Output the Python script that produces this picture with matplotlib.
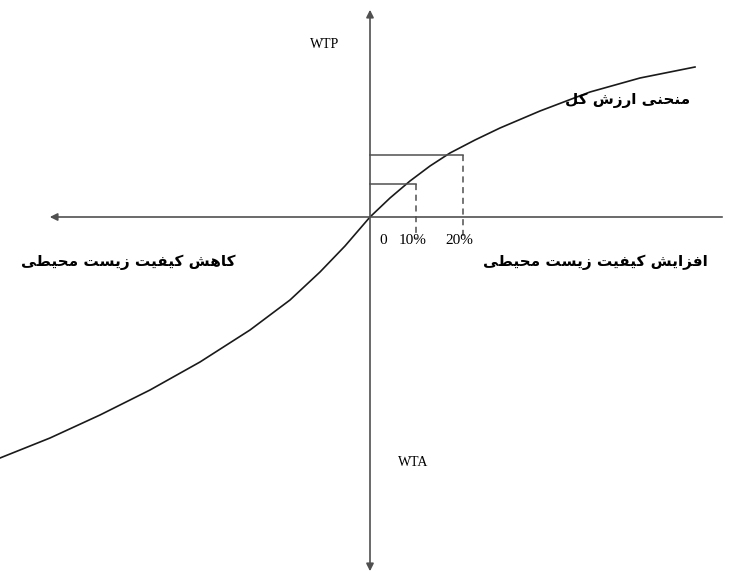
import matplotlib
matplotlib.use("Agg")
import matplotlib.pyplot as plt

# total value curve (offsets from the axes crossing)
quality_change = [-370, -320, -270, -220, -170, -120, -80, -50, -25, 0,
                  20, 40, 60, 80, 105, 130, 170, 220, 270, 325]
total_value = [-241, -221, -198, -173, -145, -113, -83, -55, -29, 0,
               19, 36, 51, 64, 77, 89, 106, 125, 139, 150]

# WTP levels for 10% and 20% improvement
pct_labels = ["10%", "20%"]
pct_x = [46, 93]
pct_label_x = [43, 89]
wtp_levels = [33, 62]

title_curve = "منحنی ارزش کل"
label_left = "کاهش کیفیت زیست محیطی"
label_right = "افزایش کیفیت زیست محیطی"

# simple persian shaping (isolated, final, initial, medial)
FORMS = {
    "ا": ("\uFE8D", "\uFE8E", None, None),
    "ر": ("\uFEAD", "\uFEAE", None, None),
    "ز": ("\uFEAF", "\uFEB0", None, None),
    "ت": ("\uFE95", "\uFE96", "\uFE97", "\uFE98"),
    "ح": ("\uFEA1", "\uFEA2", "\uFEA3", "\uFEA4"),
    "س": ("\uFEB1", "\uFEB2", "\uFEB3", "\uFEB4"),
    "ش": ("\uFEB5", "\uFEB6", "\uFEB7", "\uFEB8"),
    "ط": ("\uFEC1", "\uFEC2", "\uFEC3", "\uFEC4"),
    "ف": ("\uFED1", "\uFED2", "\uFED3", "\uFED4"),
    "ل": ("\uFEDD", "\uFEDE", "\uFEDF", "\uFEE0"),
    "م": ("\uFEE1", "\uFEE2", "\uFEE3", "\uFEE4"),
    "ن": ("\uFEE5", "\uFEE6", "\uFEE7", "\uFEE8"),
    "ه": ("\uFEE9", "\uFEEA", "\uFEEB", "\uFEEC"),
    "ک": ("\uFB8E", "\uFB8F", "\uFB90", "\uFB91"),
    "ی": ("\uFBFC", "\uFBFD", "\uFBFE", "\uFBFF"),
}


def shape(text):
    out = []
    for i, ch in enumerate(text):
        if ch not in FORMS:
            out.append(ch)
            continue
        prev = text[i - 1] if i > 0 else " "
        nxt = text[i + 1] if i < len(text) - 1 else " "
        join_prev = prev in FORMS and FORMS[prev][2] is not None
        join_next = nxt in FORMS and FORMS[ch][2] is not None
        iso, fin, ini, med = FORMS[ch]
        if join_prev and join_next:
            out.append(med)
        elif join_prev:
            out.append(fin)
        elif join_next:
            out.append(ini)
        else:
            out.append(iso)
    return "".join(reversed(out))


fig = plt.figure(figsize=(7.31, 5.77), dpi=100)
ax = fig.add_axes([0, 0, 1, 1])
ax.set_xlim(-370, 361)
ax.set_ylim(-360, 217)
ax.axis("off")

axis_color = "#505050"

# axes with arrows
ax.annotate("", xy=(-323, 0), xytext=(355, 0),
            arrowprops=dict(arrowstyle="-|>", color=axis_color, lw=1.2, mutation_scale=11))
ax.annotate("", xy=(0, 210), xytext=(0, -357),
            arrowprops=dict(arrowstyle="<|-|>", color=axis_color, lw=1.2, mutation_scale=11))

# curve
ax.plot(quality_change, total_value, color="#1a1a1a", lw=1.2, solid_joinstyle="round")

# WTP boxes
for px, lvl in zip(pct_x, wtp_levels):
    ax.plot([0, px], [lvl, lvl], color=axis_color, lw=1.1)
    ax.plot([px, px], [lvl, -22], color=axis_color, lw=1.1, linestyle=(0, (4, 3)))

serif = "Liberation Serif"
ax.text(13, -23, "0", fontsize=11, family=serif, ha="center", va="center")
for lab, px in zip(pct_labels, pct_label_x):
    ax.text(px, -23, lab, fontsize=11, family=serif, ha="center", va="center")

ax.text(-45, 172, "WTP", fontsize=10, family=serif, ha="center", va="center")
ax.text(43, -245, "WTA", fontsize=10, family=serif, ha="center", va="center")

fa = ["DejaVu Sans"]
ax.text(320, 117, shape(title_curve), fontsize=11, fontweight="bold", family=fa, ha="right", va="center")
ax.text(-242, -45, shape(label_left), fontsize=11, fontweight="bold", family=fa, ha="center", va="center")
ax.text(225, -45, shape(label_right), fontsize=11, fontweight="bold", family=fa, ha="center", va="center")

fig.savefig("out.png", dpi=100)
